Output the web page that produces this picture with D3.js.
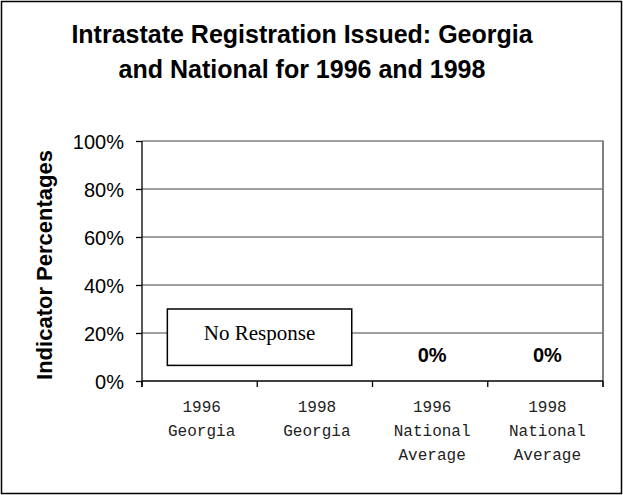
<!DOCTYPE html>
<html>
<head>
<meta charset="utf-8">
<script src="https://cdn.jsdelivr.net/npm/d3@7"></script>
<style>
  body { margin: 0; background: #fff; }
  svg { display: block; }
</style>
</head>
<body>
<div id="vis"></div>
<script>
var width = 623,
    height = 495;

// data
var years = ["1996", "1998", "1996", "1998"];
var places = [["Georgia"], ["Georgia"], ["National", "Average"], ["National", "Average"]];
var values = [null, null, 0, 0];   // null = no response
var yTicks = [0, 20, 40, 60, 80, 100];
var noResponseSpan = [0, 1];       // Georgia columns share one box
var noResponseRange = [6.5, 30];

var categories = years.map(function(d, i) { return i; });

var svg = d3.select("#vis").append("svg")
    .attr("width", width)
    .attr("height", height);

svg.append("rect")
    .attr("x", 1.5).attr("y", 1.5)
    .attr("width", width - 3).attr("height", height - 3)
    .attr("fill", "#fff")
    .attr("stroke", "#000")
    .attr("stroke-width", 1.5);

var plotLeft = 142, plotRight = 603, plotTop = 141, plotBottom = 381;

var x = d3.scaleBand()
    .domain(categories)
    .range([plotLeft, plotRight]);

var y = d3.scaleLinear()
    .domain([0, 100])
    .range([plotBottom, plotTop]);

// title
var title = svg.append("text")
    .attr("text-anchor", "middle")
    .attr("font-family", "Liberation Sans, Arial, sans-serif")
    .attr("font-weight", "bold")
    .attr("font-size", "25px")
    .attr("fill", "#000");
title.append("tspan").attr("x", 302).attr("y", 43).text("Intrastate Registration Issued: Georgia");
title.append("tspan").attr("x", 302).attr("y", 78).text("and National for 1996 and 1998");

// gridlines
svg.append("g")
  .selectAll("line")
    .data(yTicks.filter(function(d) { return d > 0; }))
    .enter()
    .append("line")
    .attr("x1", plotLeft).attr("x2", plotRight)
    .attr("y1", function(d) { return y(d); })
    .attr("y2", function(d) { return y(d); })
    .attr("stroke", "#808080")
    .attr("stroke-width", 1.3);

// right edge of plot
svg.append("line")
    .attr("x1", plotRight).attr("x2", plotRight)
    .attr("y1", plotTop - 0.5).attr("y2", plotBottom + 6)
    .attr("stroke", "#808080")
    .attr("stroke-width", 2);

// y axis
var yAxis = d3.axisLeft(y)
    .tickValues(yTicks)
    .tickSize(6)
    .tickFormat(function(d) { return d + "%"; });

var gy = svg.append("g")
    .attr("transform", "translate(" + plotLeft + ",0)")
    .call(yAxis);
gy.select(".domain").remove();
gy.append("line")
    .attr("x1", 0).attr("x2", 0)
    .attr("y1", plotTop).attr("y2", plotBottom + 6)
    .attr("stroke", "#000").attr("stroke-width", 1.3);
gy.selectAll(".tick line").attr("stroke", "#000").attr("stroke-width", 1.3);
gy.selectAll(".tick text")
    .attr("x", -18)
    .attr("dy", "0.36em")
    .attr("font-family", "Liberation Sans, Arial, sans-serif")
    .attr("font-size", "20px")
    .attr("fill", "#000");

// x axis
svg.append("line")
    .attr("x1", plotLeft).attr("x2", plotRight)
    .attr("y1", plotBottom).attr("y2", plotBottom)
    .attr("stroke", "#000").attr("stroke-width", 1.3);

svg.append("g")
  .selectAll("line")
    .data(categories.concat([categories.length]))
    .enter()
    .append("line")
    .attr("x1", function(d) { return plotLeft + d * x.step(); })
    .attr("x2", function(d) { return plotLeft + d * x.step(); })
    .attr("y1", plotBottom).attr("y2", plotBottom + 6)
    .attr("stroke", "#000").attr("stroke-width", 1.3);

var xl = svg.append("g")
  .selectAll("text")
    .data(categories)
    .enter()
    .append("text")
    .attr("text-anchor", "middle")
    .attr("font-family", "Liberation Mono, Courier New, monospace")
    .attr("font-size", "16px")
    .attr("fill", "#222");
xl.each(function(d) {
    var t = d3.select(this);
    var cx = x(d) + x.bandwidth() / 2 + 2;
    [years[d]].concat(places[d]).forEach(function(s, i) {
        t.append("tspan").attr("x", cx).attr("y", 412 + i * 24).text(s);
    });
});

// y axis title
svg.append("text")
    .attr("transform", "translate(52," + ((plotTop + plotBottom) / 2 + 4) + ") rotate(-90)")
    .attr("text-anchor", "middle")
    .attr("font-family", "Liberation Sans, Arial, sans-serif")
    .attr("font-weight", "bold")
    .attr("font-size", "22px")
    .attr("fill", "#000")
    .text("Indicator Percentages");

// bars (zero height) and labels
svg.append("g")
  .selectAll("rect")
    .data(categories.filter(function(d) { return values[d] !== null; }))
    .enter()
    .append("rect")
    .attr("x", function(d) { return x(d) + x.bandwidth() * 0.2; })
    .attr("width", x.bandwidth() * 0.6)
    .attr("y", function(d) { return y(values[d]); })
    .attr("height", function(d) { return y(0) - y(values[d]); })
    .attr("fill", "#000");

svg.append("g")
  .selectAll("text")
    .data(categories.filter(function(d) { return values[d] !== null; }))
    .enter()
    .append("text")
    .attr("x", function(d) { return x(d) + x.bandwidth() / 2 + 2; })
    .attr("y", function(d) { return y(values[d]) - 19; })
    .attr("text-anchor", "middle")
    .attr("font-family", "Liberation Sans, Arial, sans-serif")
    .attr("font-weight", "bold")
    .attr("font-size", "20px")
    .attr("fill", "#000")
    .text(function(d) { return values[d] + "%"; });

// no response box
var bx0 = x(noResponseSpan[0]) + x.bandwidth() * 0.22,
    bx1 = x(noResponseSpan[1]) + x.bandwidth() * 0.82;
svg.append("rect")
    .attr("x", bx0)
    .attr("y", y(noResponseRange[1]))
    .attr("width", bx1 - bx0)
    .attr("height", y(noResponseRange[0]) - y(noResponseRange[1]))
    .attr("fill", "#fff")
    .attr("stroke", "#000")
    .attr("stroke-width", 1.5);
svg.append("text")
    .attr("x", (bx0 + bx1) / 2)
    .attr("y", y(noResponseRange[1]) + 31)
    .attr("text-anchor", "middle")
    .attr("font-family", "Liberation Serif, Times New Roman, serif")
    .attr("font-size", "21px")
    .attr("fill", "#000")
    .text("No Response");
</script>
</body>
</html>
